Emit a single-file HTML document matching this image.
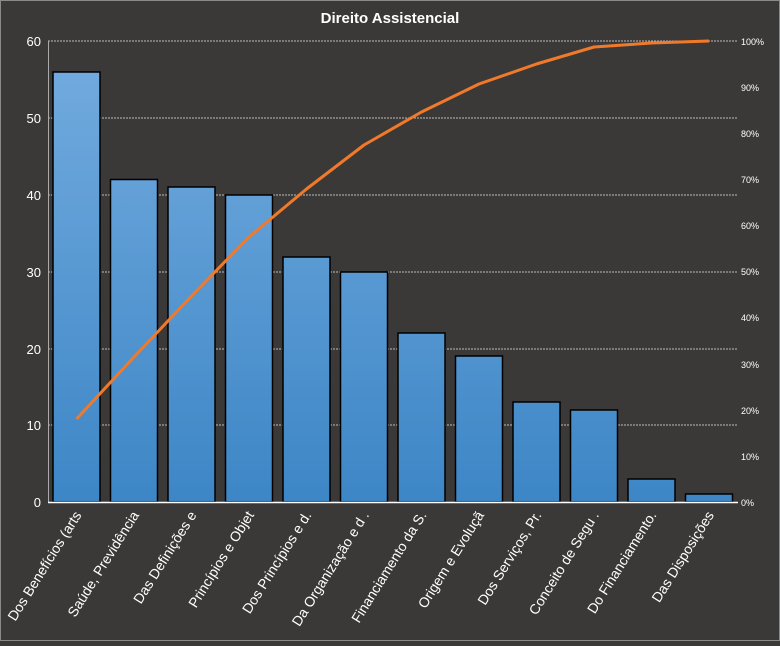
<!DOCTYPE html>
<html><head><meta charset="utf-8"><style>body{margin:0;background:#3b3938}</style></head><body>
<svg width="780" height="641" xmlns="http://www.w3.org/2000/svg" font-family="Liberation Sans, DejaVu Sans, sans-serif">
<defs><linearGradient id="g" gradientUnits="userSpaceOnUse" x1="0" y1="41" x2="0" y2="502"><stop offset="0" stop-color="#74acdf"/><stop offset="1" stop-color="#3d86c6"/></linearGradient></defs>
<rect width="780" height="641" fill="#3b3938" stroke="#8a8a8a" stroke-width="2"/>
<text x="390" y="23" fill="#fff" font-size="15" font-weight="bold" text-anchor="middle">Direito  Assistencial</text>
<g stroke="#bbb" stroke-width="1" stroke-dasharray="2,1">
<line x1="48" y1="41" x2="738" y2="41"/><line x1="48" y1="118" x2="738" y2="118"/><line x1="48" y1="195" x2="738" y2="195"/><line x1="48" y1="272" x2="738" y2="272"/><line x1="48" y1="349" x2="738" y2="349"/><line x1="48" y1="425" x2="738" y2="425"/>
</g>
<line x1="48.5" y1="41" x2="48.5" y2="502" stroke="#aaa"/>
<g fill="#fff" font-size="13" text-anchor="end">
<text x="41" y="46">60</text><text x="41" y="123">50</text><text x="41" y="200">40</text><text x="41" y="277">30</text><text x="41" y="354">20</text><text x="41" y="430">10</text><text x="41" y="507">0</text>
</g>
<g fill="#fff" font-size="9">
<text x="741" y="45">100%</text><text x="741" y="91">90%</text><text x="741" y="137">80%</text><text x="741" y="183">70%</text><text x="741" y="229">60%</text><text x="741" y="275">50%</text><text x="741" y="321">40%</text><text x="741" y="368">30%</text><text x="741" y="414">20%</text><text x="741" y="460">10%</text><text x="741" y="506">0%</text>
</g>
<g fill="url(#g)" stroke="#000" stroke-width="1.5">
<rect x="53" y="72" width="47" height="430"/>
<rect x="110.5" y="179.5" width="47" height="322.5"/>
<rect x="168" y="187" width="47" height="315"/>
<rect x="225.5" y="195" width="47" height="307"/>
<rect x="283" y="257" width="47" height="245"/>
<rect x="340.5" y="272" width="47" height="230"/>
<rect x="398" y="333" width="47" height="169"/>
<rect x="455.5" y="356" width="47" height="146"/>
<rect x="513" y="402" width="47" height="100"/>
<rect x="570.5" y="410" width="47" height="92"/>
<rect x="628" y="479" width="47" height="23"/>
<rect x="685.5" y="494" width="47" height="8"/>
</g>
<line x1="48" y1="502.5" x2="738" y2="502.5" stroke="#fff" stroke-width="1.5"/>
<polyline fill="none" stroke="#f07a2a" stroke-width="3" stroke-linejoin="round" points="76.5,419 134,357 191.5,296 249,237 306.5,189 364,145 421.5,112 479,84 536.5,64 594,47 651.5,43 709,41"/>
<g fill="#fff" font-size="14" text-anchor="end">
<text transform="translate(82,515) rotate(-58)">Dos Benefícios (arts</text>
<text transform="translate(139.5,515) rotate(-58)">Saúde, Previdência</text>
<text transform="translate(197,515) rotate(-58)">Das Definições e</text>
<text transform="translate(254.5,515) rotate(-58)">Princípios e Objet</text>
<text transform="translate(312,515) rotate(-58)">Dos Princípios e d.</text>
<text transform="translate(369.5,515) rotate(-58)">Da Organização e d .</text>
<text transform="translate(427,515) rotate(-58)">Financiamento da S.</text>
<text transform="translate(484.5,515) rotate(-58)">Origem e Evoluçã</text>
<text transform="translate(542,515) rotate(-58)">Dos Serviços, Pr.</text>
<text transform="translate(599.5,515) rotate(-58)">Conceito de Segu .</text>
<text transform="translate(657,515) rotate(-58)">Do Financiamento.</text>
<text transform="translate(714.5,515) rotate(-58)">Das Disposições</text>
</g>
</svg>
</body></html>
